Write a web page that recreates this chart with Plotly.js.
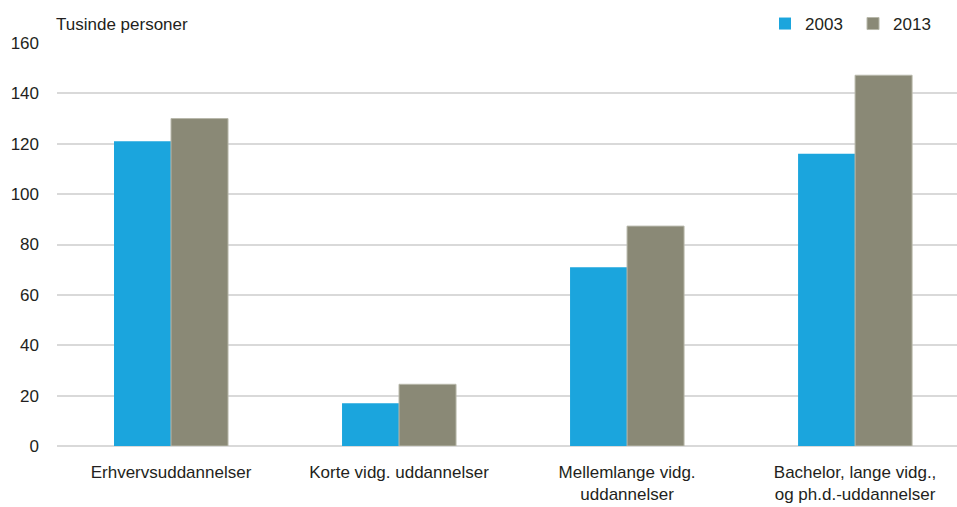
<!DOCTYPE html>
<html>
<head>
<meta charset="utf-8">
<script src="https://cdn.plot.ly/plotly-3.0.1.min.js"></script>
<style>html,body{margin:0;padding:0;background:#fff;}#chart{width:957px;height:507px;}</style>
</head>
<body>
<div id="chart"></div>
<script>
const categories = ["Erhvervsuddannelser", "Korte vidg. uddannelser", "Mellemlange vidg.<br>uddannelser", "Bachelor, lange vidg.,<br>og ph.d.-uddannelser"];
const series2003 = [121, 17, 71, 116];
const series2013 = [130, 24.5, 87.3, 147.2];
const seriesNames = ["2003", "2013"];
const yTicks = [0, 20, 40, 60, 80, 100, 120, 140, 160];
const yUnit = "Tusinde personer";

const FONT = "'Liberation Sans Narrow', 'Arial Narrow', 'Liberation Sans', Arial, sans-serif";
const TXT = "#231f20";
const FS = 17;

const traces = [
  {type: "bar", name: seriesNames[0], x: categories, y: series2003,
   marker: {color: "#1ba5dd", line: {width: 0}}},
  {type: "bar", name: seriesNames[1], x: categories, y: series2013,
   marker: {color: "#8a8976", line: {width: 1, color: "#b8b8aa"}}}
];

const layout = {
  width: 957, height: 507,
  margin: {l: 57, r: 0, t: 43, b: 61},
  paper_bgcolor: "#fff", plot_bgcolor: "#fff",
  font: {family: FONT, size: FS, color: TXT},
  barmode: "group", bargap: 0.5, bargroupgap: 0,
  xaxis: {type: "category", range: [-0.5, 3.447], showgrid: false, showline: false, automargin: false,
          ticks: "", tickfont: {family: FONT, size: FS, color: TXT}, ticklabelstandoff: 14},
  yaxis: {range: [0, 160], tickvals: yTicks, showgrid: true, gridcolor: "#d9d9d9", gridwidth: 2, automargin: false,
          zeroline: true, zerolinecolor: "#d9d9d9", zerolinewidth: 2, showline: false, ticks: "",
          tickfont: {family: FONT, size: FS, color: TXT}, ticklabelstandoff: 17},
  showlegend: true,
  legend: {orientation: "h", xref: "container", yref: "container", x: 0.7994, xanchor: "left", y: 0.9527, yanchor: "middle",
           entrywidth: 43, entrywidthmode: "pixels", font: {family: FONT, size: FS, color: TXT},
           bgcolor: "rgba(0,0,0,0)"},
  annotations: [{text: yUnit, xref: "paper", yref: "paper", x: 0, y: 1.045, xanchor: "left", yanchor: "middle",
                 xshift: -3, showarrow: false, font: {family: FONT, size: FS, color: TXT}}]
};

Plotly.newPlot("chart", traces, layout, {staticPlot: true, displayModeBar: false});
</script>
</body>
</html>
